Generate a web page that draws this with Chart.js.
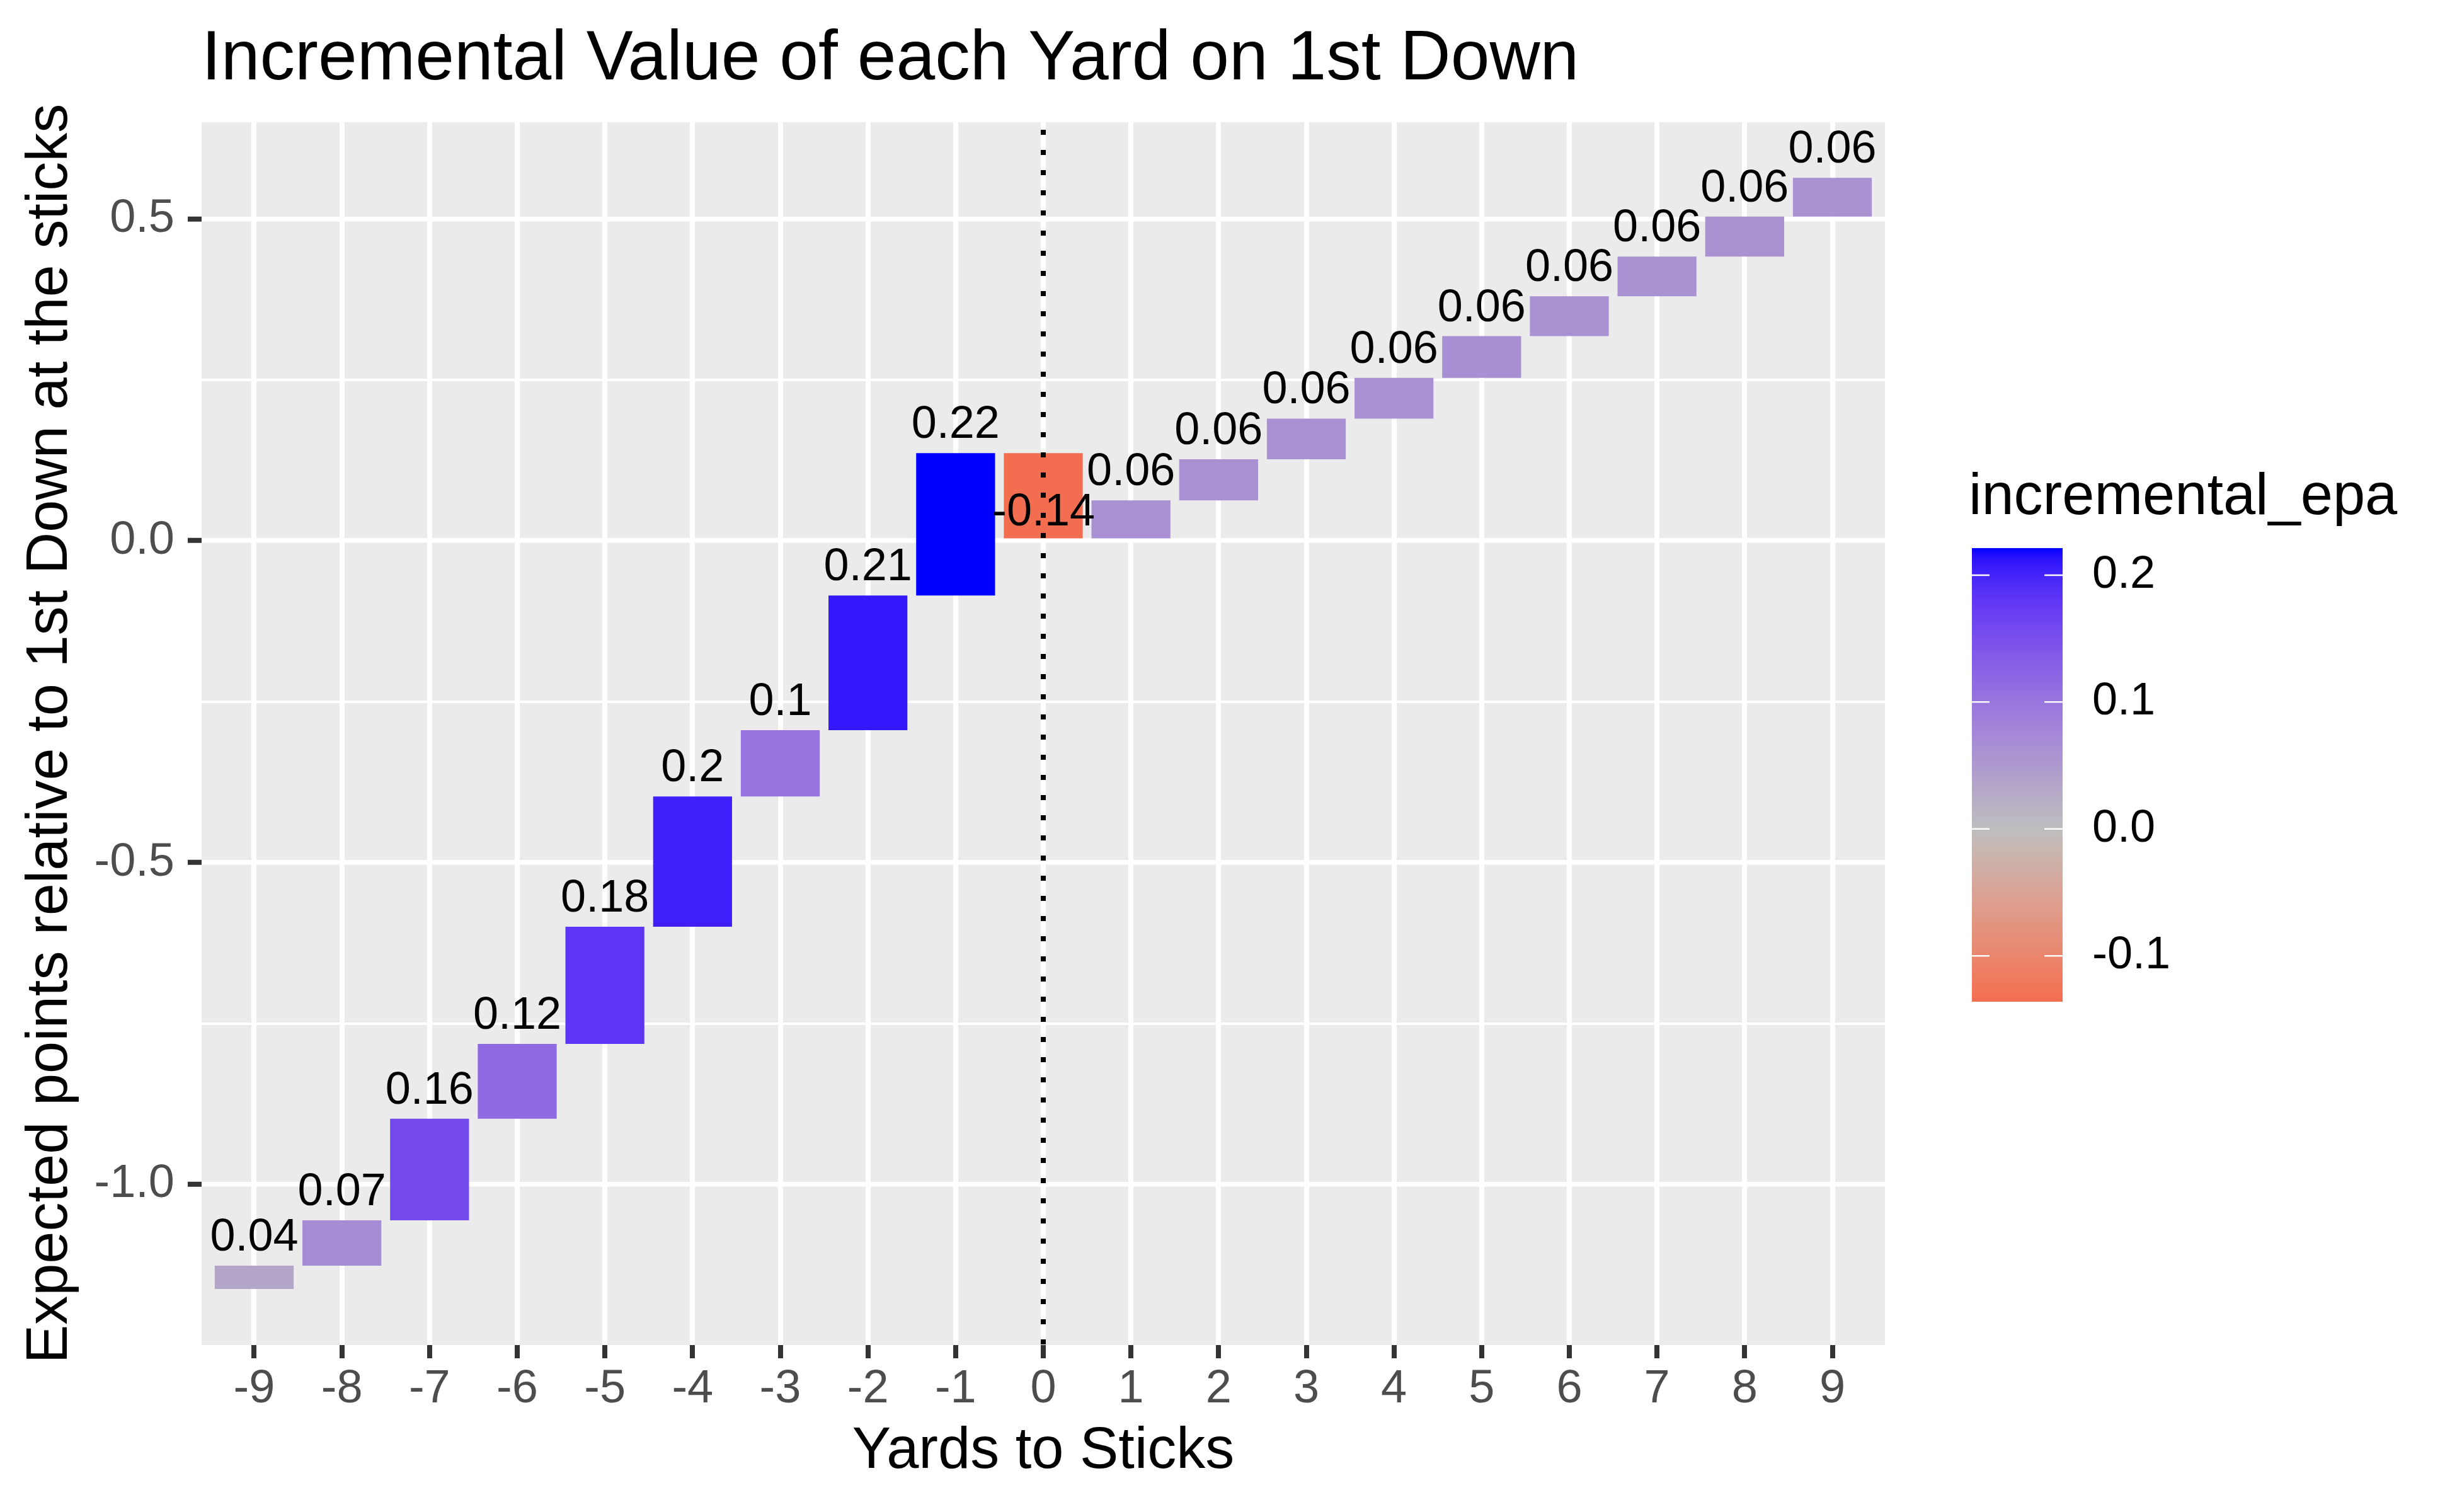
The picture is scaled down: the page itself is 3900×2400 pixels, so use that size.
<!DOCTYPE html>
<html>
<head>
<meta charset="utf-8">
<script src="https://cdn.jsdelivr.net/npm/chart.js@4.4.1/dist/chart.umd.min.js"></script>
<style>
  html, body { margin: 0; padding: 0; background: #fff; }
  canvas { display: block; }
</style>
</head>
<body>
<canvas id="chart" width="3900" height="2400"></canvas>
<script>
// waterfall: each yard's bar runs from barStart to barEnd
const yards = [-9, -8, -7, -6, -5, -4, -3, -2, -1, 0, 1, 2, 3, 4, 5, 6, 7, 8, 9];
const barStart = [-1.1624, -1.1262, -1.0558, -0.898, -0.7817, -0.5998, -0.3973, -0.2944, -0.0852, 0.1361,
                  0, 0.0627, 0.1264, 0.1896, 0.253, 0.3177, 0.3796, 0.4413, 0.5035];
const barEnd = [-1.1262, -1.0558, -0.898, -0.7817, -0.5998, -0.3973, -0.2944, -0.0852, 0.1361, 0,
                0.0627, 0.1264, 0.1896, 0.253, 0.3177, 0.3796, 0.4413, 0.5035, 0.5636];
const epaLabels = ['0.04', '0.07', '0.16', '0.12', '0.18', '0.2', '0.1', '0.21', '0.22', '-0.14',
                   '0.06', '0.06', '0.06', '0.06', '0.06', '0.06', '0.06', '0.06', '0.06'];
const yTicks = [-1, -0.75, -0.5, -0.25, 0, 0.25, 0.5];
const yMajor = [-1, -0.5, 0, 0.5];
const yMin = -1.2495, yMax = 0.650;
const xMin = -9.6, xMax = 9.6;
const legendBreaks = [0.2, 0.1, 0, -0.1];
const legendLabels = ['0.2', '0.1', '0.0', '-0.1'];

const FONT = "'Liberation Sans', Arial, sans-serif";
Chart.defaults.font.family = FONT;

const incs = barEnd.map((e, i) => e - barStart[i]);
const epaMax = Math.max(...incs), epaMin = Math.min(...incs);
const extent = Math.max(Math.abs(epaMax), Math.abs(epaMin));

// colour helpers (gradient2 red / grey / blue in Lab)
const WP = [0.95047, 1, 1.08883];
function toLin(c) { c /= 255; return c <= 0.04045 ? c / 12.92 : Math.pow((c + 0.055) / 1.055, 2.4); }
function toSrgb(c) {
  c = c <= 0.0031308 ? 12.92 * c : 1.055 * Math.pow(c, 1 / 2.4) - 0.055;
  return Math.round(Math.max(0, Math.min(1, c)) * 255);
}
function hexToLab(hex) {
  const n = parseInt(hex.slice(1), 16);
  const r = toLin(n >> 16 & 255), g = toLin(n >> 8 & 255), b = toLin(n & 255);
  const X = 0.4124564 * r + 0.3575761 * g + 0.1804375 * b;
  const Y = 0.2126729 * r + 0.7151522 * g + 0.0721750 * b;
  const Z = 0.0193339 * r + 0.1191920 * g + 0.9503041 * b;
  const f = t => t > 0.008856 ? Math.cbrt(t) : 7.787 * t + 16 / 116;
  const fx = f(X / WP[0]), fy = f(Y / WP[1]), fz = f(Z / WP[2]);
  return [116 * fy - 16, 500 * (fx - fy), 200 * (fy - fz)];
}
function labToRgb(L, a, b) {
  const fy = (L + 16) / 116, fx = fy + a / 500, fz = fy - b / 200;
  const inv = t => t * t * t > 0.008856 ? t * t * t : (t - 16 / 116) / 7.787;
  const X = WP[0] * inv(fx), Y = WP[1] * inv(fy), Z = WP[2] * inv(fz);
  const r = 3.2404542 * X - 1.5371385 * Y - 0.4985314 * Z;
  const g = -0.9692660 * X + 1.8760108 * Y + 0.0415560 * Z;
  const bl = 0.0556434 * X - 0.2040259 * Y + 1.0572252 * Z;
  return 'rgb(' + toSrgb(r) + ',' + toSrgb(g) + ',' + toSrgb(bl) + ')';
}
const LOW = hexToLab('#FF0000'), MID = hexToLab('#BEBEBE'), HIGH = hexToLab('#0000FF');
function epaColor(v) {
  const t = v / extent / 2 + 0.5;
  let a, b, f;
  if (t < 0.5) { a = LOW; b = MID; f = t / 0.5; } else { a = MID; b = HIGH; f = (t - 0.5) / 0.5; }
  return labToRgb(a[0] + (b[0] - a[0]) * f, a[1] + (b[1] - a[1]) * f, a[2] + (b[2] - a[2]) * f);
}

const panelBg = {
  id: 'panelBg',
  beforeDraw(chart) {
    const { ctx, chartArea: a } = chart;
    ctx.save();
    ctx.fillStyle = '#fff';
    ctx.fillRect(0, 0, chart.width, chart.height);
    ctx.fillStyle = '#EBEBEB';
    ctx.fillRect(a.left, a.top, a.right - a.left, a.bottom - a.top);
    ctx.restore();
  }
};

const overlay = {
  id: 'overlay',
  afterDatasetsDraw(chart) {
    const { ctx, chartArea: a, scales: { x, y } } = chart;
    ctx.save();
    // dotted line at the sticks
    const x0 = x.getPixelForValue(0);
    ctx.strokeStyle = '#000';
    ctx.lineWidth = 8;
    ctx.setLineDash([8, 24]);
    ctx.lineDashOffset = 20;
    ctx.beginPath();
    ctx.moveTo(x0, a.top);
    ctx.lineTo(x0, a.bottom);
    ctx.stroke();
    ctx.setLineDash([]);
    // value labels above bar ends
    ctx.fillStyle = '#000';
    ctx.font = '72px ' + FONT;
    ctx.textAlign = 'center';
    ctx.textBaseline = 'alphabetic';
    yards.forEach((yd, i) => {
      ctx.fillText(epaLabels[i], x.getPixelForValue(yd), y.getPixelForValue(barEnd[i]) - 24);
    });
    ctx.restore();
  },
  afterDraw(chart) {
    const { ctx, chartArea: a } = chart;
    ctx.save();
    // plot title
    ctx.fillStyle = '#000';
    ctx.font = '111px ' + FONT;
    ctx.textAlign = 'left';
    ctx.textBaseline = 'alphabetic';
    ctx.fillText('Incremental Value of each Yard on 1st Down', a.left, 126);

    // colourbar legend
    const bx = 3130, bw = 144, top = 870, bottom = 1590;
    const pix = v => top + (epaMax - v) / (epaMax - epaMin) * (bottom - top);
    ctx.font = '92px ' + FONT;
    ctx.fillText('incremental_epa', 3125, 816);
    const grad = ctx.createLinearGradient(0, top, 0, bottom);
    for (let i = 0; i <= 60; i++) {
      grad.addColorStop(i / 60, epaColor(epaMax - (i / 60) * (epaMax - epaMin)));
    }
    ctx.fillStyle = grad;
    ctx.fillRect(bx, top, bw, bottom - top);
    ctx.strokeStyle = '#fff';
    ctx.lineWidth = 2.5;
    ctx.fillStyle = '#000';
    ctx.font = '72px ' + FONT;
    ctx.textBaseline = 'middle';
    legendBreaks.forEach((v, i) => {
      const py = pix(v);
      ctx.beginPath();
      ctx.moveTo(bx, py); ctx.lineTo(bx + 28, py);
      ctx.moveTo(bx + bw - 29, py); ctx.lineTo(bx + bw, py);
      ctx.stroke();
      ctx.fillText(legendLabels[i], 3321, py);
    });
    ctx.restore();
  }
};

new Chart(document.getElementById('chart'), {
  type: 'bar',
  data: {
    datasets: [{
      data: yards.map((yd, i) => ({ x: yd, y: [barStart[i], barEnd[i]] })),
      backgroundColor: incs.map(epaColor),
      borderWidth: 0,
      barPercentage: 0.9,
      categoryPercentage: 1
    }]
  },
  options: {
    responsive: false,
    devicePixelRatio: 1,
    animation: false,
    layout: { padding: { left: 0, top: 194, right: 908, bottom: 0 } },
    plugins: { legend: { display: false }, tooltip: { enabled: false } },
    scales: {
      x: {
        type: 'linear',
        min: xMin,
        max: xMax,
        offset: false,
        afterBuildTicks: s => { s.ticks = yards.map(v => ({ value: v })); },
        afterFit: s => { s.height = 265; },
        border: { display: false },
        grid: { offset: false, color: '#fff', lineWidth: 8, tickColor: '#333333', tickWidth: 8, tickLength: 21 },
        ticks: {
          autoSkip: false, maxRotation: 0, padding: 5, color: '#4D4D4D',
          font: { size: 74 },
          callback: v => String(v)
        },
        title: {
          display: true, text: 'Yards to Sticks', color: '#000',
          font: { size: 92 }, padding: { top: 0, bottom: 40 }
        }
      },
      y: {
        min: yMin,
        max: yMax,
        afterBuildTicks: s => { s.ticks = yTicks.map(v => ({ value: v })); },
        afterFit: s => { s.width = 320; },
        border: { display: false },
        grid: {
          color: '#fff',
          lineWidth: c => (c.tick && yMajor.includes(c.tick.value)) ? 7.5 : 4,
          tickColor: c => (c.tick && yMajor.includes(c.tick.value)) ? '#333333' : 'rgba(0,0,0,0)',
          tickWidth: 8,
          tickLength: 22
        },
        ticks: {
          autoSkip: false, padding: 21, color: '#4D4D4D',
          font: { size: 74 },
          callback: v => yMajor.includes(v) ? v.toFixed(1) : ''
        },
        title: {
          display: true, text: 'Expected points relative to 1st Down at the sticks', color: '#000',
          font: { size: 92 }, padding: { top: 25, bottom: 0 }
        }
      }
    }
  },
  plugins: [panelBg, overlay]
});
</script>
</body>
</html>
